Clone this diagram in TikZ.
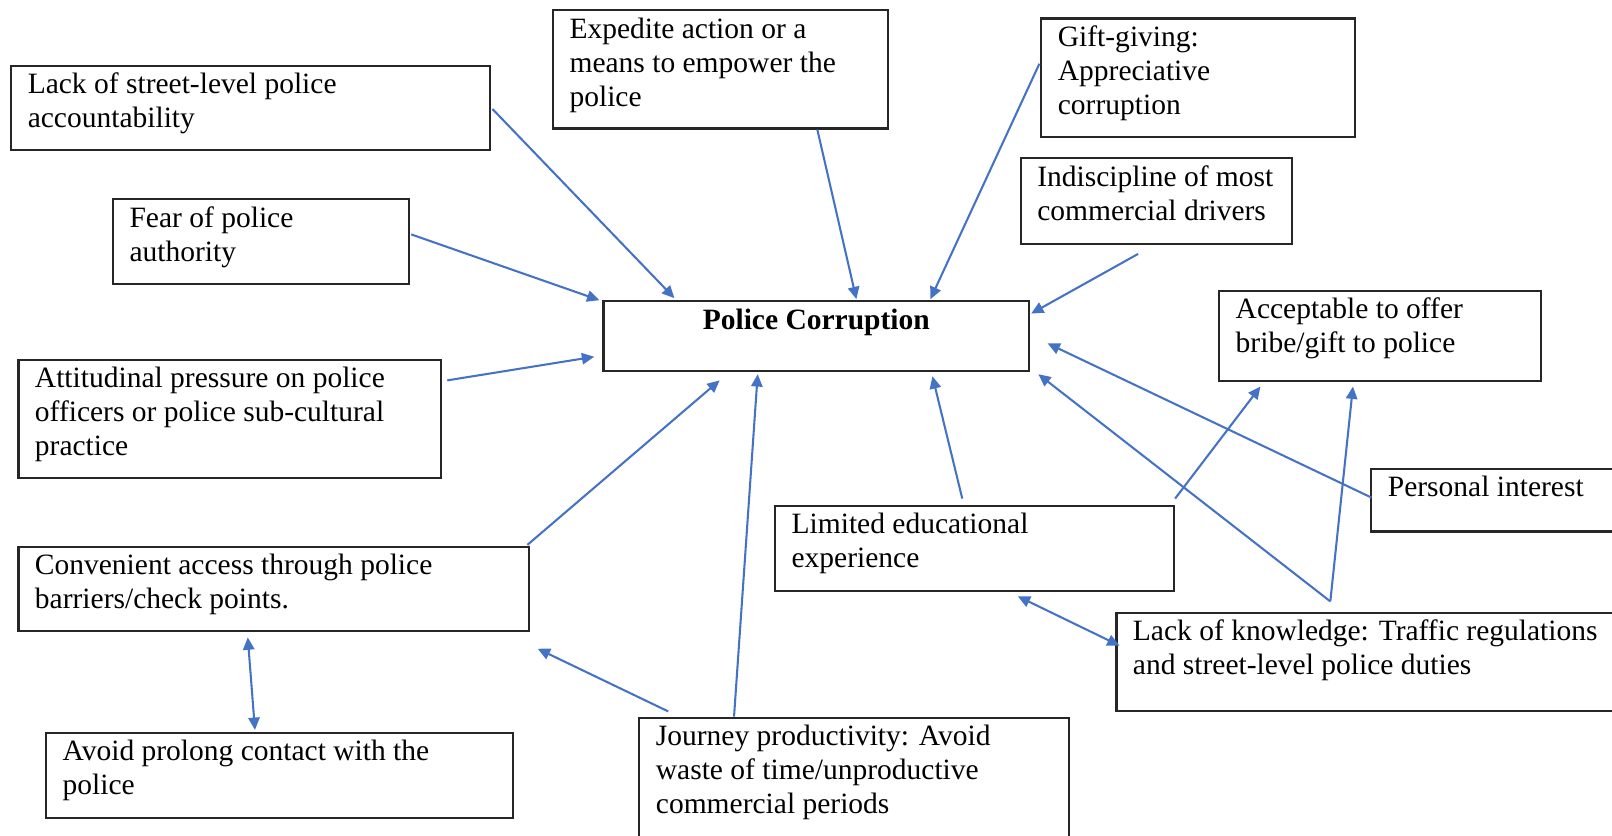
\documentclass[tikz,border=0pt]{standalone}
\usepackage{fontspec}
\setmainfont{Liberation Serif}
\usetikzlibrary{arrows.meta}
\definecolor{linkblue}{HTML}{4472C4}
\newdimen\pxu \pxu=0.5pt
\newcommand\firstline{\rule{0pt}{13.6pt}}
% #1 name, #2 x1, #3 y1, #4 x2, #5 y2 (top-left / bottom-right), #6 text
\newcommand\causebox[6]{%
  \node[cbox] (#1) at (#2,#3)
    {\parbox[c][\dimexpr\pxu*(#5-#3)\relax][t]{\dimexpr\pxu*(#4-#2-32)\relax}{\raggedright\firstline #6}};}
\tikzset{
  cbox/.style={draw=black!85, line width=1pt, anchor=north west, inner xsep=8pt,
    inner ysep=0pt, outer sep=0pt, fill=white, font=\fontsize{14.35}{16.5}\selectfont},
  link/.style={draw=linkblue, line width=1pt, -{Triangle[length=6pt,width=5.5pt]}},
  link2/.style={draw=linkblue, line width=1pt, {Triangle[length=6pt,width=5.5pt]}-{Triangle[length=6pt,width=5.5pt]}}
}
\begin{document}
\begin{tikzpicture}[x=0.5pt,y=-0.5pt]
\useasboundingbox (0,0) rectangle (1568,813);
\fill[white] (0,0) rectangle (1568,813);
\clip (0,0) rectangle (1568,813);

% factor boxes
\causebox{ls}{11}{64}{477}{146}{Lack of street-level police\\accountability}
\causebox{fe}{110}{194}{398}{276}{Fear of police\\authority}
\causebox{ex}{538}{10}{864}{125}{Expedite action or a\\means to empower the\\police}
\causebox{gi}{1013}{18}{1318}{133}{Gift-giving:\\Appreciative\\corruption}
\causebox{ind}{993}{154}{1257}{237}{Indiscipline of most\\commercial drivers}
\node[cbox] (pc) at (587,293)
  {\parbox[c][34pt][t]{191pt}{\centering\firstline\textbf{Police Corruption}}};
\causebox{ac}{1186}{283}{1499}{371}{Acceptable to offer\\bribe/gift to police}
\causebox{att}{18}{350}{429}{465}{Attitudinal pressure on police\\officers or police sub-cultural\\practice}
\causebox{pe}{1334}{456}{1590}{517}{Personal interest}
\causebox{co}{18}{532}{515}{614}{Convenient access through police\\barriers/check points.}
\causebox{li}{754}{492}{1142}{575}{Limited educational\\experience}
\causebox{lk}{1086}{596}{1590}{692}{Lack of knowledge: Traffic regulations\\and street-level police duties}
\causebox{av}{45}{713}{499}{796}{Avoid prolong contact with the\\police}
\causebox{jo}{622}{698}{1040}{840}{Journey productivity: Avoid\\waste of time/unproductive\\commercial periods}

% influences
\draw[link] ([shift={(2,42)}]ls.north east) -- ([shift={(69,-3)}]pc.north west);
\draw[link] ([shift={(2,34)}]fe.north east) -- ([shift={(-4,-1)}]pc.north west);
\draw[link] ([shift={(257,1)}]ex.south west) -- ([shift={(246,-2)}]pc.north west);
\draw[link] ([shift={(-2,44)}]gi.north west) -- ([shift={(318,-2)}]pc.north west);
\draw[link] ([shift={(114,10)}]ind.south west) -- ([shift={(2,12)}]pc.north east);
\draw[link] ([shift={(6,20)}]att.north east) -- ([shift={(-9,54)}]pc.north west);
\draw[link] ([shift={(-2,-2)}]co.north east) -- ([shift={(113,9)}]pc.south west);
\draw[link] ([shift={(92,-1)}]jo.north west) -- ([shift={(150,3)}]pc.south west);
\draw[link] ([shift={(28,-6)}]jo.north west) -- ([shift={(8,17)}]co.south east);
\draw[link] ([shift={(182,-7)}]li.north west) -- ([shift={(320,5)}]pc.south west);
\draw[link] ([shift={(1,-7)}]li.north east) -- ([shift={(40,5)}]ac.south west);
\draw[link] ([shift={(0,28)}]pe.north west) -- ([shift={(18,41)}]pc.north east);
\draw[link] ([shift={(208,-11)}]lk.north west) -- ([shift={(9,3)}]pc.south east);
\draw[link] ([shift={(208,-11)}]lk.north west) -- ([shift={(130,5)}]ac.south west);
\draw[link2] ([shift={(223,6)}]co.south west) -- ([shift={(203,-3)}]av.north west);
\draw[link2] ([shift={(236,5)}]li.south west) -- ([shift={(3,32)}]lk.north west);
\end{tikzpicture}
\end{document}
